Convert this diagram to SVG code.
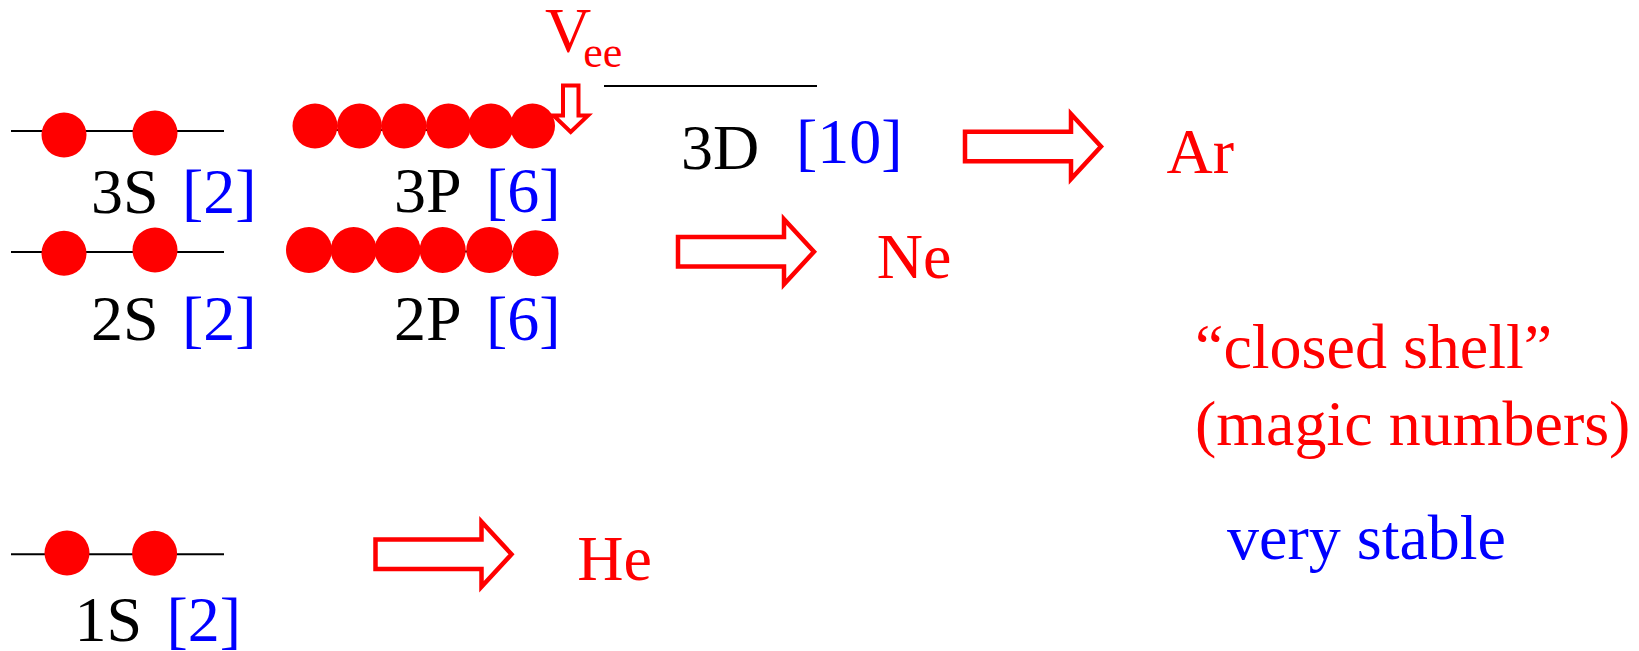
<svg xmlns="http://www.w3.org/2000/svg" width="1639" height="651" viewBox="0 0 1639 651">
<style>
text{font-family:"Liberation Serif","Times New Roman",serif;font-size:64px}
.k{fill:#000}.b{fill:#0000ff}.r{fill:#ff0000}
.lvl{stroke:#000;stroke-width:2;fill:none}
.e{fill:#ff0000}
.arr{fill:#fff;stroke:#ff0000;stroke-width:4.5;stroke-miterlimit:10}
</style>
<defs>
<path id="bigArrow" d="M2,-14.7 H108 V-32.5 L138,0 L108,32.5 V14.7 H2 Z"/>
</defs>
<rect width="1639" height="651" fill="#fff"/>
<g id="level-3S">
<line class="lvl" x1="11" y1="131" x2="224" y2="131"/>
<circle class="e" cx="64" cy="135" r="22.5"/>
<circle class="e" cx="155" cy="133" r="22.5"/>
<text class="k" x="91" y="213">3S</text>
<text class="b" x="182" y="213">[2]</text>
</g>
<g id="level-3P">
<line class="lvl" x1="315" y1="130" x2="533" y2="130"/>
<circle class="e" cx="315" cy="126" r="22.5"/>
<circle class="e" cx="359.5" cy="126" r="22.5"/>
<circle class="e" cx="404" cy="126" r="22.5"/>
<circle class="e" cx="448.5" cy="126" r="22.5"/>
<circle class="e" cx="491" cy="126" r="22.5"/>
<circle class="e" cx="532.5" cy="126" r="22.5"/>
<text class="k" x="394" y="212">3P</text>
<text class="b" x="486" y="212">[6]</text>
</g>
<g id="vee">
<text class="r" x="545" y="52">V<tspan dx="-8" dy="14.5" style="font-size:44px">ee</tspan></text>
<path class="arr" style="stroke-width:4" d="M563,85.5 H578.5 V115.5 H588 L570.7,132 L553.5,115.5 H563 Z"/>
</g>
<g id="level-3D">
<line class="lvl" x1="604" y1="86" x2="817" y2="86"/>
<text class="k" x="681" y="169">3D</text>
<text class="b" x="796" y="163">[10]</text>
</g>
<g id="level-2S">
<line class="lvl" x1="11" y1="252" x2="224" y2="252"/>
<circle class="e" cx="64" cy="253.3" r="22.5"/>
<circle class="e" cx="155" cy="250" r="22.5"/>
<text class="k" x="91" y="340">2S</text>
<text class="b" x="182" y="340">[2]</text>
</g>
<g id="level-2P">
<line class="lvl" x1="309" y1="251.5" x2="535" y2="251.5"/>
<circle class="e" cx="309" cy="250" r="23"/>
<circle class="e" cx="353.7" cy="250" r="23"/>
<circle class="e" cx="397.5" cy="250" r="23"/>
<circle class="e" cx="442.7" cy="250" r="23"/>
<circle class="e" cx="489.3" cy="250" r="23"/>
<circle class="e" cx="535.5" cy="253.3" r="23"/>
<text class="k" x="394" y="340">2P</text>
<text class="b" x="486" y="340">[6]</text>
</g>
<g id="level-1S">
<line class="lvl" x1="11" y1="554.3" x2="224" y2="554.3"/>
<circle class="e" cx="67" cy="553" r="22.5"/>
<circle class="e" cx="154.6" cy="553.3" r="22.5"/>
<text class="k" x="74.5" y="641">1S</text>
<text class="b" x="166.5" y="641">[2]</text>
</g>
<g id="connectors">
<use href="#bigArrow" class="arr" transform="translate(963,146.5)"/>
<use href="#bigArrow" class="arr" transform="translate(676,251.7)"/>
<use href="#bigArrow" class="arr" transform="translate(373.5,554.3)"/>
</g>
<g id="label-Ar"><text class="r" x="1166.5" y="172.7">Ar</text></g>
<g id="label-Ne"><text class="r" x="876.7" y="278.3">Ne</text></g>
<g id="label-He"><text class="r" x="577.3" y="580">He</text></g>
<g id="note">
<text class="r" x="1195" y="368.3">“closed shell”</text>
<text class="r" x="1195" y="445">(magic numbers)</text>
<text class="b" x="1227" y="559.3">very stable</text>
</g>
</svg>
